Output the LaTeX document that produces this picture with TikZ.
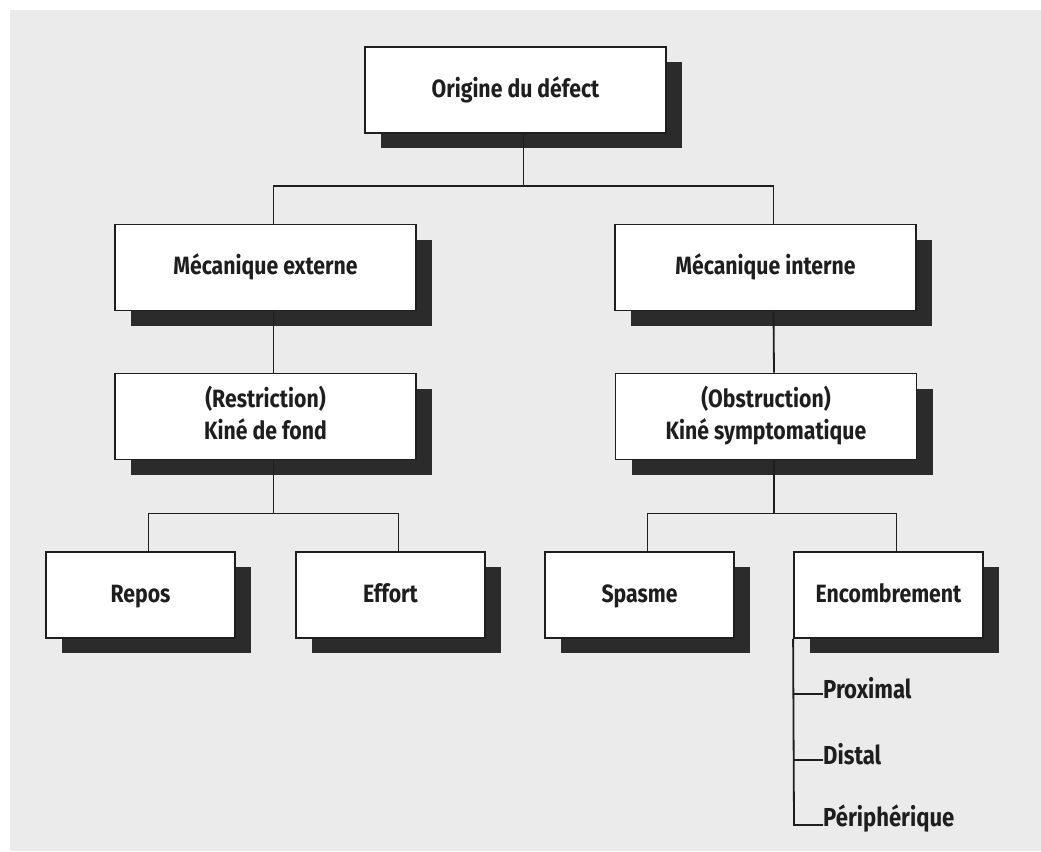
\documentclass[tikz,border=0pt]{standalone}
\usepackage{fontspec}
\newfontfamily\cond[FakeStretch=0.85]{Fira Sans}
\usetikzlibrary{shadows}
\definecolor{bg}{HTML}{EBEBEB}
\definecolor{shade}{HTML}{2B2B2B}
\definecolor{ink}{HTML}{1E1E1E}
\tikzset{
  box/.style={draw=ink, line width=1.8pt, fill=white, align=center,
    minimum height=86pt, text=ink, inner sep=0pt,
    text height=19pt, text depth=5pt,
    font=\cond\bfseries\fontsize{25}{32}\selectfont,
    drop shadow={shadow xshift=16pt, shadow yshift=-15pt, fill=shade, opacity=1}},
  wide/.style={box, minimum width=301pt},
  twoline/.style={wide, text height=51pt},
  narrow/.style={box, minimum width=189pt},
  link/.style={draw=ink, line width=1.8pt},
  item/.style={anchor=west, inner sep=0pt, text=ink, font=\cond\bfseries\fontsize{26}{30}\selectfont}
}
\begin{document}
\begin{tikzpicture}[x=1pt, y=-1pt]
\fill[white] (0,0) rectangle (1041,851);
\fill[bg] (10,10) rectangle (1041,851);
\useasboundingbox (0,0) rectangle (1041,851);

\node[wide] (top) at (515.5,90) {Origine du défect};
\node[wide] (ml) at (265.5,267.5) {Mécanique externe};
\node[wide] (mr) at (765.5,267.5) {Mécanique interne};
\node[twoline] (rl) at (265.5,416.5) {(Restriction)\\Kiné de fond};
\node[twoline] (rr) at (766,416.5) {(Obstruction)\\Kiné symptomatique};
\node[narrow] (repos) at (140.5,595) {Repos};
\node[narrow] (effort) at (390.5,595) {Effort};
\node[narrow] (spasme) at (639.5,595) {Spasme};
\node[narrow] (enc) at (888.5,595) {Encombrement};

\draw[link] ([xshift=8pt]top.south) -- ++(0,52) coordinate (h1);
\draw[link] ([xshift=8pt]ml.north) |- (h1) -| ([xshift=8pt]mr.north);
\draw[link] ([xshift=8pt]ml.south) -- ([xshift=8pt]rl.north);
\draw[link] ([xshift=8pt]mr.south) -- ([xshift=8pt]rr.north);
\draw[link] ([xshift=8pt]rl.south) -- ++(0,53) coordinate (h2);
\draw[link] ([xshift=8pt]repos.north) |- (h2) -| ([xshift=8pt]effort.north);
\draw[link] ([xshift=8pt]rr.south) -- ++(0,53) coordinate (h3);
\draw[link] ([xshift=8pt]spasme.north) |- (h3) -| ([xshift=8pt]enc.north);

\node[item] (prox) at (823,688) {Proximal};
\node[item] (dist) at (823,754) {Distal};
\node[item] (peri) at (823,819) {Périphérique};
\coordinate (c1) at (794,694);
\coordinate (c2) at (794,760);
\coordinate (c3) at (794,825);
\draw[link] (enc.south west) -- (c3) -- (c3 -| prox.west);
\draw[link] (c1) -- (c1 -| prox.west);
\draw[link] (c2) -- (c2 -| dist.west);
\end{tikzpicture}
\end{document}
